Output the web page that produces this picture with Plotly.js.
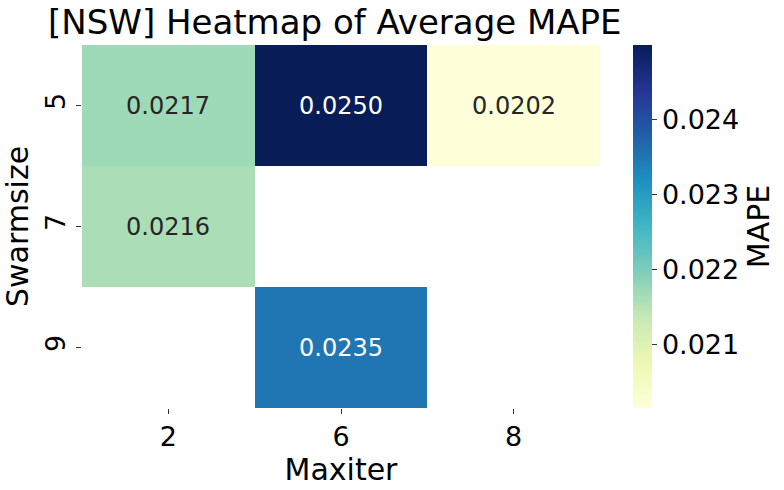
<!DOCTYPE html>
<html><head><meta charset="utf-8">
<script src="https://cdn.plot.ly/plotly-3.0.1.min.js"></script>
<style>html,body{margin:0;padding:0;background:#fff}</style>
</head><body><div id="chart" style="width:784px;height:490px"></div>
<script>
const maxiter = ['2', '6', '8'];
const swarmsize = ['5', '7', '9'];
const row5 = [0.0217, 0.02499, 0.02016];
const row7 = [0.0216, null, null];
const row9 = [null, 0.0235, null];
const zmin = 0.02016, zmax = 0.02499;
const colorTicks = [0.021, 0.022, 0.023, 0.024];

const z = [row5, row7, row9];
const ylgnbu = [
  [0, '#ffffd9'], [0.125, '#edf8b1'], [0.25, '#c7e9b4'], [0.375, '#7fcdbb'],
  [0.5, '#41b6c4'], [0.625, '#1d91c0'], [0.75, '#225ea8'], [0.875, '#253494'], [1, '#081d58']
];
const FONT = 'DejaVu Sans, sans-serif';
const xIdx = maxiter.map((_, j) => j);
const yIdx = swarmsize.map((_, i) => i);

const annotations = [];
z.forEach((row, i) => row.forEach((v, j) => {
  if (v === null) return;
  const frac = (v - zmin) / (zmax - zmin);
  annotations.push({
    x: xIdx[j], y: yIdx[i], xref: 'x', yref: 'y', text: v.toFixed(4), showarrow: false,
    font: {family: FONT, size: 24, color: frac > 0.55 ? '#ffffff' : '#262626'}
  });
}));

const trace = {
  type: 'heatmap', x: xIdx, y: yIdx, z: z,
  zmin: zmin, zmax: zmax, colorscale: ylgnbu, xgap: 0, ygap: 0,
  hoverongaps: false,
  colorbar: {
    x: 1.0637, xanchor: 'left', xref: 'paper', y: 0.5, yanchor: 'middle',
    len: 1, lenmode: 'fraction', thickness: 19, thicknessmode: 'pixels',
    xpad: 0, ypad: 0,
    outlinewidth: 0, ticks: 'outside', ticklen: 5, tickcolor: '#333',
    tickvals: colorTicks, ticktext: colorTicks.map(t => t.toFixed(3)),
    tickfont: {family: FONT, size: 27, color: '#000'},
    title: {text: 'MAPE', side: 'right', font: {family: FONT, size: 30, color: '#000'}}
  }
};

const layout = {
  width: 784, height: 490,
  margin: {l: 82, r: 184, t: 45, b: 82, autoexpand: false},
  paper_bgcolor: '#fff', plot_bgcolor: '#fff',
  title: {text: '[NSW] Heatmap of Average MAPE', x: 48/784, xanchor: 'left', y: 0.955, yanchor: 'middle',
    font: {family: FONT, size: 34, color: '#000'}},
  xaxis: {range: [-0.5, 2.5], showgrid: false, zeroline: false, showline: false,
    tickvals: xIdx, ticktext: maxiter,
    ticks: 'outside', ticklen: 5, tickcolor: '#333',
    tickfont: {family: FONT, size: 27, color: '#000'},
    title: {text: 'Maxiter', font: {family: FONT, size: 30, color: '#000'}, standoff: 4}},
  yaxis: {range: [2.5, -0.5], showgrid: false, zeroline: false, showline: false,
    tickvals: yIdx, ticktext: swarmsize,
    ticks: 'outside', ticklen: 5, tickcolor: '#333', tickangle: -90,
    tickfont: {family: FONT, size: 27, color: '#000'},
    title: {text: 'Swarmsize', font: {family: FONT, size: 30, color: '#000'}, standoff: 4}},
  annotations: annotations
};

Plotly.newPlot('chart', [trace], layout, {displayModeBar: false, staticPlot: true});
</script></body></html>
